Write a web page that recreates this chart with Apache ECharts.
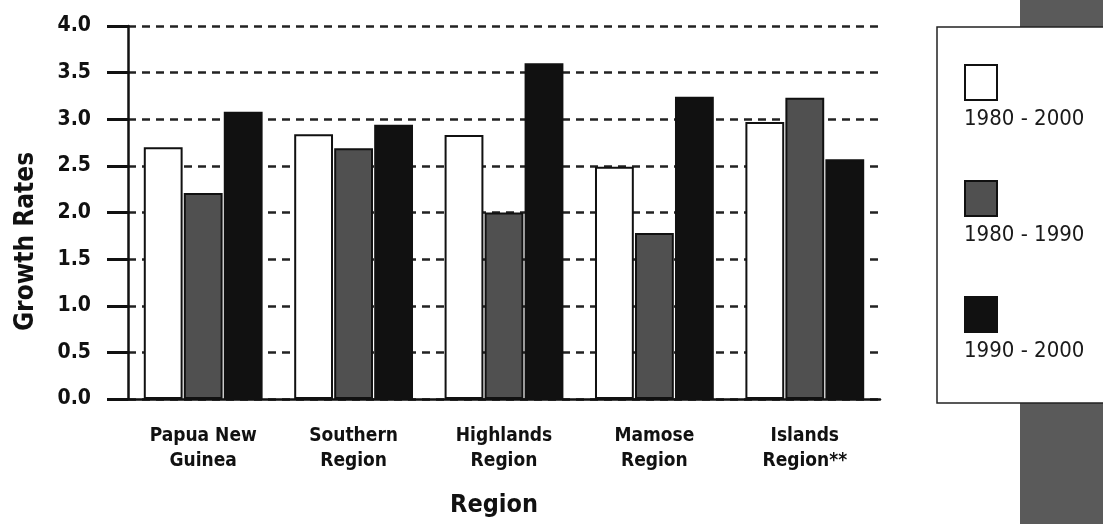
<!DOCTYPE html>
<html>
<head>
<meta charset="utf-8">
<title>Growth Rates by Region</title>
<script src="https://cdn.jsdelivr.net/npm/echarts@6/dist/echarts.min.js"></script>
<style>
  html, body { margin: 0; padding: 0; background: #fff; }
  #chart { width: 1103px; height: 524px; }
</style>
</head>
<body>
<div id="chart"></div>
<script>
// Regions along the x axis
const regions = ['Papua New\nGuinea', 'Southern\nRegion', 'Highlands\nRegion', 'Mamose\nRegion', 'Islands\nRegion**'];

// Series names
const periods = ['1980 - 2000', '1980 - 1990', '1990 - 2000'];

// Growth rates per region, one array per period
const rate1980to2000 = [2.70, 2.84, 2.83, 2.49, 2.97];
const rate1980to1990 = [2.21, 2.69, 2.00, 1.78, 3.23];
const rate1990to2000 = [3.08, 2.94, 3.60, 3.24, 2.57];

// Y axis ticks
const yTicks = [0, 0.5, 1.0, 1.5, 2.0, 2.5, 3.0, 3.5, 4.0];

const FONT = '"DejaVu Sans Condensed", "DejaVu Sans", sans-serif';
const fills = ['#ffffff', '#505050', '#111111'];

const seriesData = [rate1980to2000, rate1980to1990, rate1990to2000];

const chart = echarts.init(document.getElementById('chart'), null, { renderer: 'canvas' });

chart.setOption({
  animation: false,
  backgroundColor: '#ffffff',
  grid: { left: 128, right: 223, top: 26, bottom: 125, containLabel: false, outerBoundsMode: 'none' },
  graphic: [
    // dark band on the right edge
    { type: 'rect', z: 0, shape: { x: 1020, y: 0, width: 83, height: 524 },
      style: { fill: '#5a5a5a' } },
    // legend frame
    { type: 'rect', z: 1, shape: { x: 937, y: 27, width: 180, height: 376 },
      style: { fill: '#ffffff', stroke: '#222', lineWidth: 1.5 } }
  ],
  legend: [
    {
      // swatches
      orient: 'vertical',
      left: 959, top: 59,
      itemWidth: 32, itemHeight: 35, itemGap: 79,
      icon: 'rect',
      selectedMode: false,
      formatter: () => '',
      data: periods
    },
    {
      // labels under the swatches
      orient: 'vertical',
      left: 954, top: 100,
      itemWidth: 0, itemHeight: 28, itemGap: 91,
      icon: 'none',
      selectedMode: false,
      textStyle: { fontFamily: FONT, fontSize: 22, color: '#1a1a1a' },
      data: periods
    }
  ],
  xAxis: {
    type: 'category',
    data: regions,
    name: 'Region',
    nameLocation: 'middle',
    nameGap: 94,
    nameTextStyle: { fontFamily: FONT, fontSize: 25, fontWeight: 'bold', color: '#111', padding: [0, 20, 0, 0] },
    axisLine: { lineStyle: { color: '#111', width: 2.5 } },
    axisTick: { length: 10, lineStyle: { color: '#111', width: 3 } },
    axisLabel: {
      fontFamily: FONT, fontSize: 19, fontWeight: 'bold', color: '#111',
      lineHeight: 25, margin: 25, interval: 0
    },
    splitLine: { show: false }
  },
  yAxis: {
    type: 'value',
    min: 0, max: 4, interval: 0.5,
    name: 'Growth Rates',
    nameLocation: 'middle',
    nameGap: 89,
    nameRotate: 90,
    nameTextStyle: { fontFamily: FONT, fontSize: 26, fontWeight: 'bold', color: '#111', padding: [0, 58, 0, 0] },
    axisLine: { show: true, lineStyle: { color: '#111', width: 2.5 } },
    axisTick: { show: true, length: 21, lineStyle: { color: '#111', width: 3 } },
    axisLabel: {
      fontFamily: FONT, fontSize: 21, fontWeight: 'bold', color: '#111',
      margin: 37,
      formatter: v => (yTicks.includes(v) ? v.toFixed(1) : '')
    },
    splitLine: { show: true, lineStyle: { color: '#222', width: 2.5, type: [8, 6] } }
  },
  series: periods.map((name, i) => ({
    name,
    type: 'bar',
    data: seriesData[i],
    barGap: '3%',
    barCategoryGap: '21%',
    itemStyle: { color: fills[i], borderColor: '#111', borderWidth: 2 }
  }))
});
</script>
</body>
</html>
